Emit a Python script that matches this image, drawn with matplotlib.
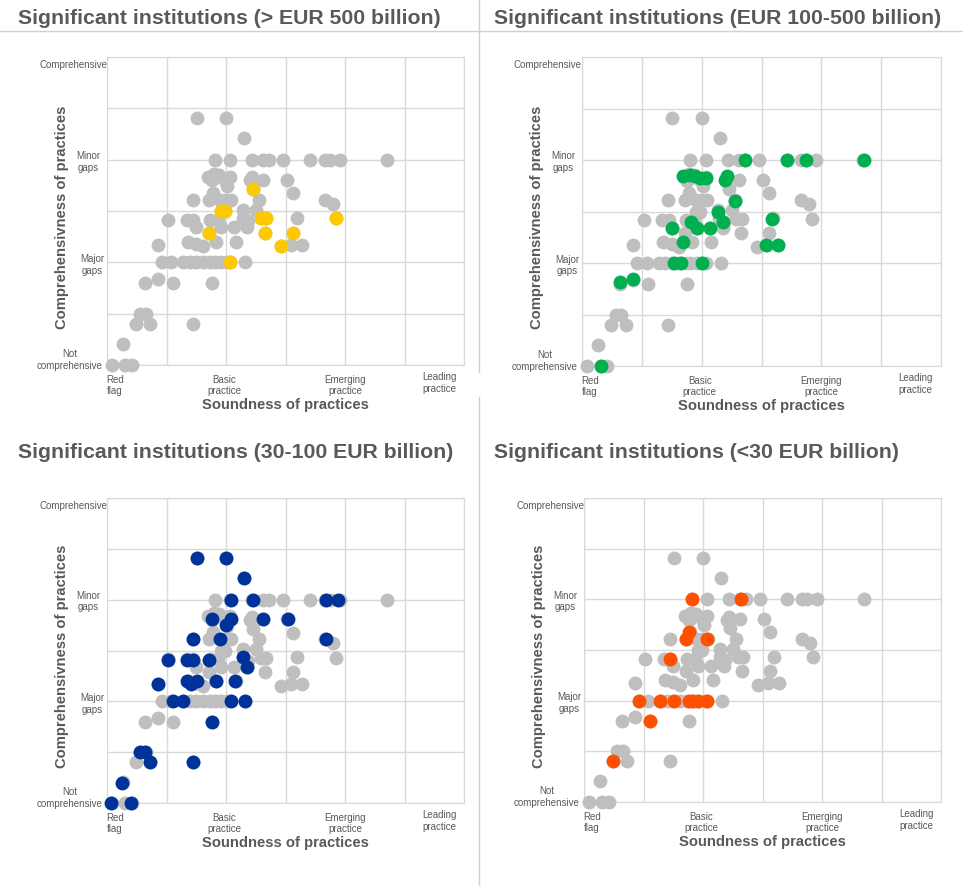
import matplotlib
matplotlib.use("Agg")
import matplotlib.pyplot as plt
from matplotlib.lines import Line2D

plt.rcParams['font.family'] = ['Liberation Sans', 'DejaVu Sans']

# all institutions (grey background cloud)
x_all = [1.51, 2.00, 2.30,
         1.81, 2.07, 2.44, 2.63, 2.73, 2.95, 3.42, 3.66, 3.74, 3.91, 4.70,
         1.70, 1.79, 1.88, 1.98, 2.07, 1.76, 2.02, 2.43, 2.40, 2.63, 3.03,
         1.78, 3.13, 2.46,
         1.44, 1.72, 1.90, 2.00, 2.09, 2.56, 3.66, 3.80,
         2.28, 2.51, 1.91, 1.98,
         1.03, 1.34, 1.45, 1.73, 1.87, 2.29, 2.37, 3.20, 2.58, 2.67, 3.85,
         1.50, 1.92, 2.14, 2.35,
         1.72, 2.65, 3.12,
         0.86, 1.36, 1.50, 1.62, 1.84, 2.16, 3.09, 3.28, 2.92,
         0.92, 1.08, 1.28, 1.39, 1.50, 1.62, 1.73, 1.81, 1.92, 2.01, 2.32, 2.07,
         0.64, 0.86, 1.11, 1.76,
         0.56, 0.65,
         0.48, 0.73, 1.44,
         0.27,
         0.08, 0.31, 0.42]
y_all = [4.81, 4.81, 4.42,
         4.00, 4.00, 4.00, 4.00, 4.00, 4.00, 4.00, 4.00, 4.00, 4.00, 4.00,
         3.67, 3.73, 3.71, 3.61, 3.67, 3.60, 3.49, 3.66, 3.60, 3.61, 3.61,
         3.36, 3.35, 3.43,
         3.22, 3.22, 3.22, 3.22, 3.22, 3.22, 3.22, 3.14,
         3.02, 3.02, 3.00, 3.00,
         2.83, 2.83, 2.83, 2.83, 2.83, 2.87, 2.80, 2.87, 2.86, 2.86, 2.86,
         2.68, 2.68, 2.68, 2.68,
         2.58, 2.58, 2.58,
         2.34, 2.40, 2.36, 2.31, 2.40, 2.40, 2.34, 2.34, 2.31,
         2.00, 2.00, 2.00, 2.00, 2.00, 2.00, 2.00, 2.00, 2.00, 2.00, 2.00, 2.00,
         1.60, 1.67, 1.60, 1.60,
         1.00, 1.00,
         0.80, 0.80, 0.80,
         0.41,
         0.00, 0.00, 0.00]

# > EUR 500 billion
x_big = [2.46, 1.91, 1.98, 2.58, 2.67, 1.72, 2.65, 3.12, 3.85, 2.92, 2.07]
y_big = [3.43, 3.00, 3.00, 2.86, 2.86, 2.58, 2.58, 2.58, 2.86, 2.31, 2.00]

# EUR 100-500 billion
x_mid = [2.72, 3.42, 3.75, 4.71, 1.69, 1.81, 1.89, 1.98, 2.08, 2.39, 2.43,
         2.56, 2.28, 3.18, 2.36, 1.83, 1.93, 2.14, 1.50, 1.68, 3.07, 3.28,
         1.54, 1.66, 2.00, 0.64, 0.85, 0.32]
y_mid = [4.00, 4.00, 4.00, 4.00, 3.68, 3.71, 3.69, 3.66, 3.66, 3.61, 3.68,
         3.21, 3.00, 2.85, 2.80, 2.80, 2.67, 2.67, 2.67, 2.40, 2.34, 2.34,
         2.00, 2.00, 2.00, 1.63, 1.68, 0.00]

# 30-100 EUR billion
x_small = [1.51, 2.00, 2.30, 2.08, 2.45, 3.68, 3.89, 1.76, 2.08, 2.00, 2.62,
           3.04, 1.44, 1.90, 3.68, 2.29, 2.35, 1.03, 1.34, 1.44, 1.72, 0.85,
           1.34, 1.42, 1.52, 1.83, 2.15, 1.11, 1.28, 2.08, 2.32, 1.76, 0.55,
           0.64, 0.72, 1.44, 0.26, 0.07, 0.40]
y_small = [4.82, 4.82, 4.42, 4.00, 4.00, 4.00, 4.00, 3.62, 3.62, 3.51, 3.62,
           3.62, 3.22, 3.22, 3.22, 2.88, 2.68, 2.82, 2.82, 2.82, 2.82, 2.34,
           2.40, 2.35, 2.40, 2.40, 2.40, 2.00, 2.00, 2.00, 2.00, 1.59, 1.00,
           1.00, 0.81, 0.81, 0.40, 0.00, 0.00]

# <30 EUR billion
x_less = [1.82, 2.64, 1.77, 1.71, 2.06, 1.45, 0.93, 1.28, 1.52, 1.77, 1.84,
          1.92, 2.07, 1.11, 0.48]
y_less = [4.00, 4.00, 3.35, 3.21, 3.22, 2.82, 2.00, 2.00, 2.00, 2.00, 2.00,
          2.00, 2.00, 1.60, 0.80]

titles = ["Significant institutions (> EUR 500 billion)",
          "Significant institutions (EUR 100-500 billion)",
          "Significant institutions (30-100 EUR billion)",
          "Significant institutions (<30 EUR billion)"]
colors = ["#FFC800", "#00AF50", "#003399", "#FF5000"]
highlights = [(x_big, y_big), (x_mid, y_mid), (x_small, y_small), (x_less, y_less)]

x_ticks = [0.13, 1.97, 4.0, 5.58]
x_labels = ["Red\nflag", "Basic\npractice", "Emerging\npractice", "Leading\npractice"]
y_ticks = [5.84, 3.96, 1.95, 0.1]
y_labels = ["Comprehensive", "Minor\ngaps", "Major\ngaps", "Not\ncomprehensive"]
y_label_x = [-0.095, -0.053, -0.042, -0.104]

W, H = 963, 886
fig = plt.figure(figsize=(W / 100, H / 100), dpi=100)

# axes boxes in pixels: left, top, right, bottom
boxes = [(107, 57, 464, 365), (582, 57, 941, 366),
         (107, 498, 464, 803), (584, 498, 941, 802)]
title_pos = [(18, 18.5), (494, 18.5), (18, 452.5), (494, 452.5)]

txt = "#595959"
grid = "#D9D9D9"

for i in range(4):
    l, t, r, b = boxes[i]
    ax = fig.add_axes([l / W, 1 - b / H, (r - l) / W, (b - t) / H])
    ax.set_xlim(0, 6)
    ax.set_ylim(0, 6)
    ax.set_xticks(range(7))
    ax.set_yticks(range(7))
    ax.grid(True, color=grid, linewidth=1)
    ax.tick_params(length=0, labelbottom=False, labelleft=False)
    for s in ax.spines.values():
        s.set_color(grid)
    ax.set_axisbelow(True)

    ax.plot(x_all, y_all, 'o', color="#BFBFBF", markersize=10,
            markeredgewidth=0, clip_on=False, zorder=3)
    hx, hy = highlights[i]
    ax.plot(hx, hy, 'o', color=colors[i], markersize=10,
            markeredgewidth=0, clip_on=False, zorder=4)

    xt = ax.get_xaxis_transform()
    for j in range(len(x_ticks)):
        yy = -0.023 if j == 3 else -0.032
        ax.text(x_ticks[j], yy, x_labels[j], transform=xt, ha='center',
                va='top', fontsize=7, color=txt)
    yt = ax.get_yaxis_transform()
    for j in range(len(y_ticks)):
        ax.text(y_label_x[j], y_ticks[j], y_labels[j], transform=yt,
                ha='center', va='center', fontsize=7, color=txt)

    ax.text(0.5, -0.13, "Soundness of practices", transform=ax.transAxes,
            ha='center', va='center', fontsize=10.6, fontweight='bold', color=txt)
    ax.text(-0.126, 0.48, "Comprehensivness of practices", transform=ax.transAxes,
            ha='center', va='center', rotation=90, fontsize=10.6,
            fontweight='bold', color=txt)

    tx, ty = title_pos[i]
    fig.text(tx / W, 1 - ty / H, titles[i], ha='left', va='center',
             fontsize=15.3, fontweight='bold', color=txt)

# separator lines
sep = "#D0D0D0"
fig.add_artist(Line2D([0, 1], [1 - 31 / H, 1 - 31 / H], color=sep, linewidth=1))
fig.add_artist(Line2D([479 / W, 479 / W], [1, 1 - 372 / H], color=sep, linewidth=1))
fig.add_artist(Line2D([479 / W, 479 / W], [1 - 397 / H, 0], color=sep, linewidth=1))

fig.savefig("out.png", dpi=100, facecolor="white")
